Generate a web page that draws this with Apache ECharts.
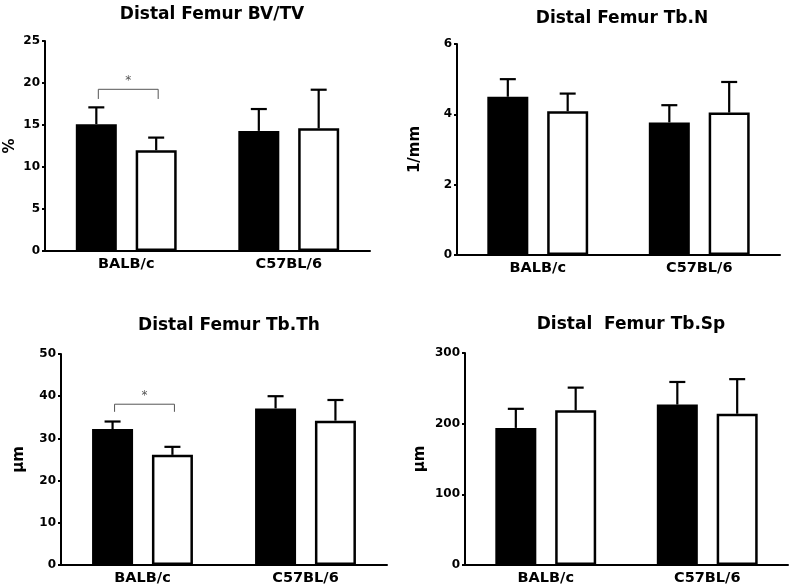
<!DOCTYPE html>
<html>
<head>
<meta charset="utf-8">
<script src="https://cdn.jsdelivr.net/npm/echarts@6/dist/echarts.min.js"></script>
<style>
html,body{margin:0;padding:0;background:#fff;}
#c{width:790px;height:588px;}
</style>
</head>
<body>
<div id="c"></div>
<script>
// ---------- DATA ----------
const categories = ['BALB/c', 'C57BL/6'];
const titles = ['Distal Femur BV/TV', 'Distal Femur Tb.N', 'Distal Femur Tb.Th', 'Distal  Femur Tb.Sp'];
const yNames = ['%', '1/mm', 'µm', 'µm'];
const yMaxes = [25, 6, 50, 300];
const yIntervals = [5, 2, 10, 100];

// black bars (group A) and white bars (group B): means and SD (upper error)
const bvtvMeanA = [15.1, 14.3];
const bvtvSdA   = [2.0, 2.6];
const bvtvMeanB = [12.0, 14.6];
const bvtvSdB   = [1.5, 4.6];

const tbnMeanA = [4.5, 3.77];
const tbnSdA   = [0.5, 0.49];
const tbnMeanB = [4.09, 4.05];
const tbnSdB   = [0.5, 0.87];

const tbthMeanA = [32.2, 37.1];
const tbthSdA   = [1.8, 2.9];
const tbthMeanB = [26.1, 34.2];
const tbthSdB   = [1.9, 4.9];

const tbspMeanA = [194, 227];
const tbspSdA   = [27, 32];
const tbspMeanB = [219, 214];
const tbspSdB   = [32, 49];

// significance brackets: [category index, bracket level, leg end level]
const bvtvSig = [0, 19.25, 18.1];
const tbthSig = [0, 38.1, 36.3];

// ---------- CHART ----------
const FONT = '"DejaVu Sans", Verdana, sans-serif';
const panels = [
  {meanA: bvtvMeanA, sdA: bvtvSdA, meanB: bvtvMeanB, sdB: bvtvSdB, sig: bvtvSig,
   grid: {left: 45, top: 41, right: 420, bottom: 337}, nameGap: 27, titleX: 207, titleY: 1},
  {meanA: tbnMeanA, sdA: tbnSdA, meanB: tbnMeanB, sdB: tbnSdB, sig: null,
   grid: {left: 457, top: 44, right: 10, bottom: 333}, nameGap: 34, titleX: 617, titleY: 5},
  {meanA: tbthMeanA, sdA: tbthSdA, meanB: tbthMeanB, sdB: tbthSdB, sig: tbthSig,
   grid: {left: 61, top: 354, right: 403, bottom: 23}, nameGap: 34, titleX: 224, titleY: 312},
  {meanA: tbspMeanA, sdA: tbspSdA, meanB: tbspMeanB, sdB: tbspSdB, sig: null,
   grid: {left: 465, top: 353, right: 2, bottom: 23}, nameGap: 37, titleX: 626, titleY: 311}
];

const BAR_W = 41;
const BAR_GAP = '46%';
const HALF_SPACING = (BAR_W + BAR_W * 0.46) / 2;

function errRender(params, api) {
  const cat = api.value(0), mean = api.value(1), top = api.value(2), which = api.value(3);
  const p0 = api.coord([cat, mean]);
  const p1 = api.coord([cat, top]);
  const x = p0[0] + (which === 0 ? -HALF_SPACING : HALF_SPACING);
  return {
    type: 'group',
    children: [
      {type: 'line', shape: {x1: x, y1: p0[1], x2: x, y2: p1[1]}, style: {stroke: '#000', lineWidth: 2.2}},
      {type: 'line', shape: {x1: x - 8, y1: p1[1], x2: x + 8, y2: p1[1]}, style: {stroke: '#000', lineWidth: 2.2}}
    ]
  };
}

function sigRender(params, api) {
  const cat = api.value(0), lvl = api.value(1), leg = api.value(2);
  const pc = api.coord([cat, lvl]);
  const pl = api.coord([cat, leg]);
  const xl = pc[0] - HALF_SPACING + 2, xr = pc[0] + HALF_SPACING + 2;
  return {
    type: 'group',
    children: [
      {type: 'polyline', shape: {points: [[xl, pl[1]], [xl, pc[1]], [xr, pc[1]], [xr, pl[1]]]},
       style: {stroke: '#555', lineWidth: 1, fill: null}},
      {type: 'text', style: {text: '*', x: (xl + xr) / 2, y: pc[1] - 2, textAlign: 'center',
        textVerticalAlign: 'bottom', fill: '#555', font: '12px ' + FONT}}
    ]
  };
}

const option = {
  animation: false,
  backgroundColor: '#fff',
  title: [], grid: [], xAxis: [], yAxis: [], series: []
};

panels.forEach((p, i) => {
  option.title.push({
    text: titles[i], left: p.titleX, top: p.titleY, textAlign: 'center',
    textStyle: {fontFamily: FONT, fontSize: 17, fontWeight: 'bold', color: '#000'}
  });
  option.grid.push(Object.assign({containLabel: false}, p.grid));
  option.xAxis.push({
    type: 'category', gridIndex: i, data: categories,
    axisLine: {lineStyle: {color: '#000', width: 2}},
    axisTick: {alignWithLabel: true, length: 4, lineStyle: {color: '#000', width: 2}},
    axisLabel: {color: '#000', fontFamily: FONT, fontWeight: 'bold', fontSize: 14.5, margin: 6}
  });
  option.yAxis.push({
    type: 'value', gridIndex: i, min: 0, max: yMaxes[i], interval: yIntervals[i],
    name: yNames[i], nameLocation: 'middle', nameGap: p.nameGap, nameRotate: 90,
    nameTextStyle: {color: '#000', fontFamily: FONT, fontWeight: 'bold', fontSize: 15},
    axisLine: {show: true, lineStyle: {color: '#000', width: 2}},
    axisTick: {show: true, length: 3, lineStyle: {color: '#000', width: 2}},
    axisLabel: {color: '#000', fontFamily: FONT, fontWeight: 'bold', fontSize: 12, margin: 5},
    splitLine: {show: false}
  });
  option.series.push({
    type: 'bar', xAxisIndex: i, yAxisIndex: i, data: p.meanA, barWidth: BAR_W, barGap: BAR_GAP,
    itemStyle: {color: '#000', borderColor: '#000', borderWidth: 2}, z: 2
  });
  option.series.push({
    type: 'bar', xAxisIndex: i, yAxisIndex: i, data: p.meanB, barWidth: BAR_W, barGap: BAR_GAP,
    itemStyle: {color: '#fff', borderColor: '#000', borderWidth: 2.5}, z: 2
  });
  const errData = [];
  p.meanA.forEach((m, k) => errData.push([k, m, m + p.sdA[k], 0]));
  p.meanB.forEach((m, k) => errData.push([k, m, m + p.sdB[k], 1]));
  option.series.push({
    type: 'custom', xAxisIndex: i, yAxisIndex: i, data: errData, renderItem: errRender, z: 3, silent: true
  });
  if (p.sig) {
    option.series.push({
      type: 'custom', xAxisIndex: i, yAxisIndex: i, data: [p.sig], renderItem: sigRender, z: 3, silent: true
    });
  }
});

const chart = echarts.init(document.getElementById('c'), null, {renderer: 'canvas'});
chart.setOption(option);
</script>
</body>
</html>
